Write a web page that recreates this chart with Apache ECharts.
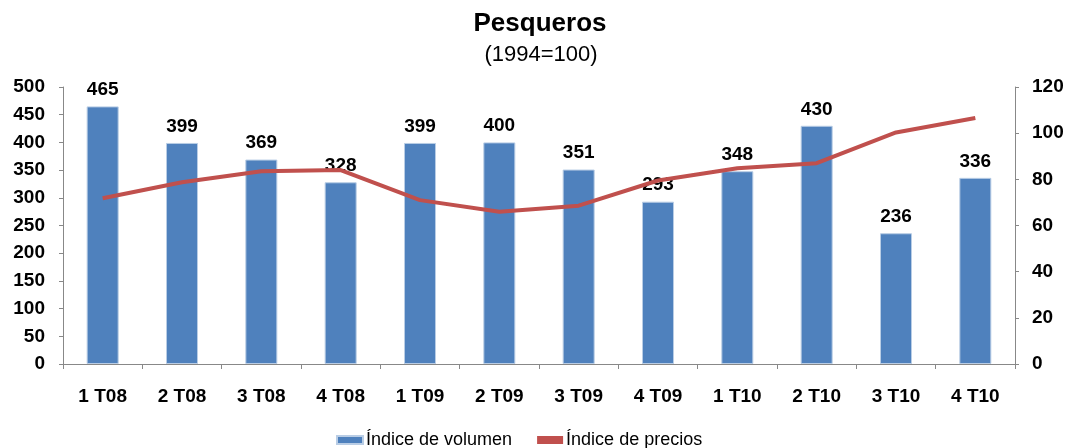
<!DOCTYPE html>
<html>
<head>
<meta charset="utf-8">
<script src="https://cdn.jsdelivr.net/npm/echarts@6/dist/echarts.min.js"></script>
<style>html,body{margin:0;padding:0;background:#fff}#c{width:1070px;height:448px}</style>
</head>
<body>
<div id="c"></div>
<script>
var categories = ['1 T08','2 T08','3 T08','4 T08','1 T09','2 T09','3 T09','4 T09','1 T10','2 T10','3 T10','4 T10'];
var volumen = [465,399,369,328,399,400,351,293,348,430,236,336];
var precios = [71.8,78.7,83.5,84,71,66,68.6,79.5,84.8,87,100.3,106.6];
var leftTicks = {min:0,max:500,interval:50};
var rightTicks = {min:0,max:120,interval:20};
var titleText = 'Pesqueros';
var subtitleText = '(1994=100)';

var chart = echarts.init(document.getElementById('c'));
var font = 'Arial, "Liberation Sans", sans-serif';
chart.setOption({
  animation:false,
  textStyle:{fontFamily:font},
  graphic:[
    {type:'text',x:540,y:24,style:{text:titleText,textAlign:'center',textVerticalAlign:'middle',font:'bold 26px '+font,fill:'#000'}},
    {type:'text',x:541,y:55,style:{text:subtitleText,textAlign:'center',textVerticalAlign:'middle',font:'22px '+font,fill:'#000'}}
  ],
  legend:{
    bottom:-6,left:331,itemGap:25,itemWidth:26,itemHeight:8,
    textStyle:{fontFamily:font,fontSize:18,color:'#000',padding:[0,0,0,-2]},
    data:[{name:'Índice de volumen',icon:'rect'},{name:'Índice de precios',icon:'rect'}]
  },
  grid:{left:63,right:55,top:87,bottom:84},
  xAxis:{
    type:'category',data:categories,
    axisLine:{lineStyle:{color:'#888',width:1}},
    axisTick:{show:true,length:5,lineStyle:{color:'#888'}},
    axisLabel:{margin:23,fontFamily:font,fontSize:19,fontWeight:'bold',color:'#000'}
  },
  yAxis:[
    {type:'value',min:leftTicks.min,max:leftTicks.max,interval:leftTicks.interval,
     splitLine:{show:false},
     axisLine:{show:true,lineStyle:{color:'#888'}},
     axisTick:{show:true,length:4,lineStyle:{color:'#888'}},
     axisLabel:{margin:18,fontFamily:font,fontSize:19,fontWeight:'bold',color:'#000'}},
    {type:'value',min:rightTicks.min,max:rightTicks.max,interval:rightTicks.interval,position:'right',
     splitLine:{show:false},
     axisLine:{show:true,lineStyle:{color:'#888'}},
     axisTick:{show:true,length:4,lineStyle:{color:'#888'}},
     axisLabel:{margin:17,fontFamily:font,fontSize:19,fontWeight:'bold',color:'#000'}}
  ],
  series:[
    {name:'Índice de volumen',type:'bar',data:volumen,barWidth:32,
     itemStyle:{color:'#4F81BD',borderColor:'#B9CDE5',borderWidth:1},
     label:{show:true,position:'top',distance:7,fontFamily:font,fontSize:19,fontWeight:'bold',color:'#000'}},
    {name:'Índice de precios',type:'line',yAxisIndex:1,data:precios,
     symbol:'none',lineStyle:{color:'#C0504D',width:4},itemStyle:{color:'#C0504D'}}
  ]
});
</script>
</body>
</html>
